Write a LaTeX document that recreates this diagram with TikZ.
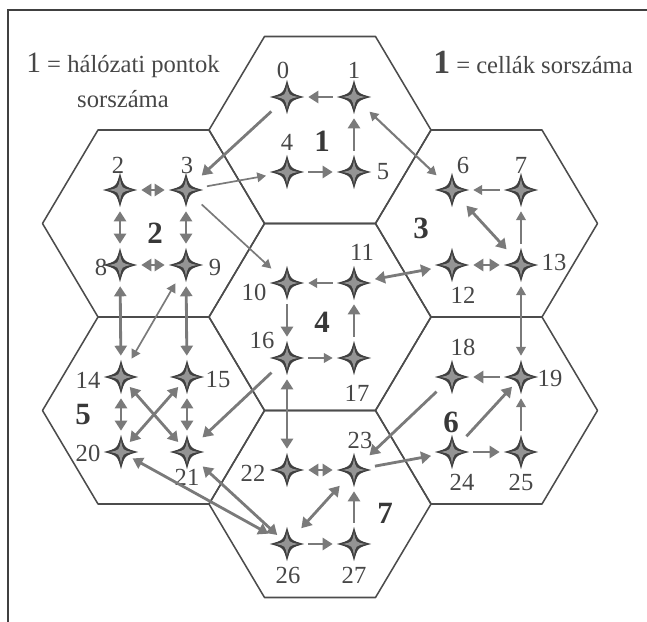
\documentclass[tikz,border=0pt]{standalone}
\usepackage{fontspec}
\setmainfont{Liberation Serif}
\usetikzlibrary{arrows.meta}

\begin{document}
\begin{tikzpicture}[x=0.025cm, y=-0.025cm, font=\fontsize{17.5}{20}\selectfont]
\tikzset{
    PT/.style={circle, minimum size=1.05cm, inner sep=0pt,
               path picture={
                 \fill[black!75, shift={(path picture bounding box.center)}]
                   (0cm,0.43cm) .. controls (0.09cm,0.09cm) .. (0.43cm,0cm)
                   .. controls (0.09cm,-0.09cm) .. (0cm,-0.43cm)
                   .. controls (-0.09cm,-0.09cm) .. (-0.43cm,0cm)
                   .. controls (-0.09cm,0.09cm) .. (0cm,0.43cm) -- cycle;
                 \fill[black!42, shift={(path picture bounding box.center)}]
                   (0cm,0.30cm) .. controls (0.04cm,0.04cm) .. (0.30cm,0cm)
                   .. controls (0.04cm,-0.04cm) .. (0cm,-0.30cm)
                   .. controls (-0.04cm,-0.04cm) .. (-0.30cm,0cm)
                   .. controls (-0.04cm,0.04cm) .. (0cm,0.30cm) -- cycle;
               }},
    LB/.style={inner sep=0pt, text=black!72},
    CL/.style={inner sep=0pt, text=black!78, font=\fontsize{22}{24}\selectfont\bfseries},
    HX/.style={draw=black!70, line width=1.1pt, line join=round},
    AR/.style={draw=black!52, line width=2pt, >={Triangle[length=0.25cm, width=0.3cm]}},
    AT/.style={draw=black!52, line width=1.2pt, >={Triangle[length=0.22cm, width=0.24cm]}},
    LONG/.style={shorten <=-0.2cm, shorten >=-0.2cm},
}

\clip (0,0) rectangle (647,622);

% Frame
\draw[black!75, line width=1.3pt] (8,10) rectangle (700,700);

%── Cells ──────────────────────────────────────────────────────
\draw[HX] (209,130) -- (264.5,36.5) -- (375.5,36.5) -- (431,130) -- (375.5,223.5) -- (264.5,223.5) -- cycle;   % cell 1
\draw[HX] (42.5,223.5) -- (98,130) -- (209,130) -- (264.5,223.5) -- (209,317) -- (98,317) -- cycle;           % cell 2
\draw[HX] (375.5,223.5) -- (431,130) -- (542,130) -- (597.5,223.5) -- (542,317) -- (431,317) -- cycle;        % cell 3
\draw[HX] (209,317) -- (264.5,223.5) -- (375.5,223.5) -- (431,317) -- (375.5,410.5) -- (264.5,410.5) -- cycle; % cell 4
\draw[HX] (42.5,410.5) -- (98,317) -- (209,317) -- (264.5,410.5) -- (209,504) -- (98,504) -- cycle;           % cell 5
\draw[HX] (375.5,410.5) -- (431,317) -- (542,317) -- (597.5,410.5) -- (542,504) -- (431,504) -- cycle;        % cell 6
\draw[HX] (209,504) -- (264.5,410.5) -- (375.5,410.5) -- (431,504) -- (375.5,597.5) -- (264.5,597.5) -- cycle; % cell 7

%── Legend ─────────────────────────────────────────────────────
\node[LB, align=center, font=\fontsize{17.5}{25}\selectfont] (legpt) at (123,80)
     {{\fontsize{21}{21}\selectfont 1} = hálózati pontok\\sorszáma};
\node[LB, anchor=west] (legcell) at (433,62)
     {{\fontsize{24}{24}\selectfont\bfseries 1} = cellák sorszáma};

%── Cell numbers ───────────────────────────────────────────────
\node[CL] (c1) at (322,141) {1};
\node[CL] (c2) at (155,233) {2};
\node[CL] (c3) at (421,228) {3};
\node[CL] (c4) at (322,322) {4};
\node[CL] (c5) at (83,415)  {5};
\node[CL] (c6) at (451,422) {6};
\node[CL] (c7) at (385,513) {7};

%── Network points ─────────────────────────────────────────────
\node[PT] (p0)  at (287,97)  {};  \node[PT] (p1)  at (354,97)  {};   % cell 1
\node[PT] (p4)  at (287,172) {};  \node[PT] (p5)  at (354,172) {};
\node[PT] (p2)  at (120,190) {};  \node[PT] (p3)  at (186,190) {};   % cell 2
\node[PT] (p8)  at (120,265) {};  \node[PT] (p9)  at (186,265) {};
\node[PT] (p6)  at (452,190) {};  \node[PT] (p7)  at (521,190) {};   % cell 3
\node[PT] (p12) at (452,265) {};  \node[PT] (p13) at (521,265) {};
\node[PT] (p10) at (287,283) {};  \node[PT] (p11) at (354,283) {};   % cell 4
\node[PT] (p16) at (287,358) {};  \node[PT] (p17) at (354,358) {};
\node[PT] (p14) at (121,377) {};  \node[PT] (p15) at (187,377) {};   % cell 5
\node[PT] (p20) at (121,452) {};  \node[PT] (p21) at (187,452) {};
\node[PT] (p18) at (452,377) {};  \node[PT] (p19) at (521,377) {};   % cell 6
\node[PT] (p24) at (452,452) {};  \node[PT] (p25) at (521,452) {};
\node[PT] (p22) at (287,470) {};  \node[PT] (p23) at (354,470) {};   % cell 7
\node[PT] (p26) at (287,544) {};  \node[PT] (p27) at (354,544) {};

%── Point numbers ──────────────────────────────────────────────
\node[LB] (l0)  at (283,70)  {0};   \node[LB] (l1)  at (354,70)  {1};
\node[LB] (l4)  at (287,142) {4};   \node[LB] (l5)  at (383,172) {5};
\node[LB] (l2)  at (118,165) {2};   \node[LB] (l3)  at (187,165) {3};
\node[LB] (l8)  at (101,267) {8};   \node[LB] (l9)  at (215,267) {9};
\node[LB] (l6)  at (463,165) {6};   \node[LB] (l7)  at (521,165) {7};
\node[LB] (l12) at (463,295) {12};  \node[LB] (l13) at (554,262) {13};
\node[LB] (l10) at (254,292) {10};  \node[LB] (l11) at (362,252) {11};
\node[LB] (l16) at (262,340) {16};  \node[LB] (l17) at (357,393) {17};
\node[LB] (l14) at (88,380)  {14};  \node[LB] (l15) at (218,380) {15};
\node[LB] (l20) at (88,453)  {20};  \node[LB] (l21) at (187,477) {21};
\node[LB] (l18) at (463,347) {18};  \node[LB] (l19) at (550,378) {19};
\node[LB] (l24) at (462,482) {24};  \node[LB] (l25) at (521,482) {25};
\node[LB] (l22) at (253,473) {22};  \node[LB] (l23) at (360,440) {23};
\node[LB] (l26) at (288,575) {26};  \node[LB] (l27) at (354,575) {27};

%── Links ──────────────────────────────────────────────────────
% cell 1
\draw[AR, ->]  (p1) -- (p0);
\draw[AR, ->]  (p5) -- (p1);
\draw[AR, ->]  (p4) -- (p5);
\draw[AR, ->]  (p0) -- (p3);
\draw[AT, ->]  (p3) -- (p4);
\draw[AT, <->, line width=1.5pt] (p1) -- (p6);
% cell 2
\draw[AR, <->] (p2) -- (p3);
\draw[AR, <->] (p2) -- (p8);
\draw[AR, <->] (p3) -- (p9);
\draw[AR, <->] (p8) -- (p9);
\draw[AT, ->]  (p3) -- (p10);
\draw[AR, <->] (p8) -- (p14);
\draw[AR, <->] (p9) -- (p15);
\draw[AT, <->] (p9) -- (p14);
% cell 3
\draw[AT, ->]  (p7) -- (p6);
\draw[AR, <->] (p6) -- (p13);
\draw[AT, ->]  (p13) -- (p7);
\draw[AR, <->] (p12) -- (p13);
\draw[AR, <->] (p11) -- (p12);
\draw[AT, <->] (p13) -- (p19);
% cell 4
\draw[AT, ->]  (p11) -- (p10);
\draw[AR, ->]  (p10) -- (p16);
\draw[AR, ->]  (p17) -- (p11);
\draw[AT, ->]  (p16) -- (p17);
\draw[AR, ->]  (p16) -- (p21);
\draw[AR, <->] (p16) -- (p22);
% cell 5
\draw[AR, <->] (p14) -- (p20);
\draw[AR, <->] (p15) -- (p21);
\draw[AR, <->, LONG] (p14) -- (p21);
\draw[AR, <->, LONG] (p15) -- (p20);
\draw[AR, <->, shorten <=-0.2cm] (p20) -- (p26);
\draw[AR, <->, shorten >=-0.2cm] (p21) -- (p26);
% cell 6
\draw[AR, ->]  (p19) -- (p18);
\draw[AT, ->]  (p25) -- (p19);
\draw[AR, ->]  (p24) -- (p25);
\draw[AR, ->, shorten >=-0.2cm]  (p24) -- (p19);
\draw[AR, ->]  (p18) -- (p23);
\draw[AR, ->]  (p23) -- (p24);
% cell 7
\draw[AR, <->] (p22) -- (p23);
\draw[AR, <->] (p26) -- (p23);
\draw[AR, ->]  (p27) -- (p23);
\draw[AR, ->]  (p26) -- (p27);

\end{tikzpicture}
\end{document}
